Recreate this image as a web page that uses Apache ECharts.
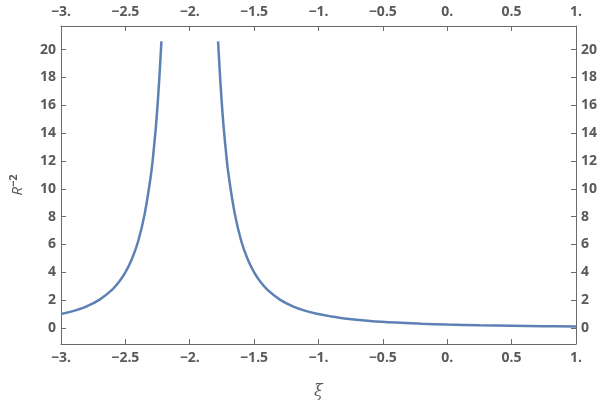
<!DOCTYPE html>
<html>
<head>
<meta charset="utf-8">
<script src="https://cdn.jsdelivr.net/npm/echarts@6/dist/echarts.min.js"></script>
<style>
  html, body { margin: 0; padding: 0; background: #fff; }
  #main { width: 600px; height: 405px; }
</style>
</head>
<body>
<div id="main"></div>
<script>
// values, left branch / right branch of the curve
var xiLeft = [-3.0, -2.9, -2.8, -2.7, -2.6, -2.55, -2.5, -2.45, -2.4, -2.35, -2.3, -2.28, -2.26, -2.24, -2.22];
var r2Left = [1.00, 1.23, 1.56, 2.04, 2.78, 3.31, 4.0, 4.94, 6.25, 8.2, 11.1, 12.8, 14.8, 17.4, 20.6];
var xiRight = [-1.78, -1.76, -1.74, -1.72, -1.7, -1.65, -1.6, -1.55, -1.5, -1.45, -1.4, -1.3, -1.2, -1.1, -1.0, -0.9, -0.8, -0.6, -0.4, -0.2, 0.0, 0.25, 0.5, 0.75, 1.0];
var r2Right = [20.6, 17.4, 14.8, 12.8, 11.1, 8.2, 6.25, 4.94, 4.0, 3.31, 2.78, 2.04, 1.56, 1.23, 1.00, 0.83, 0.69, 0.51, 0.39, 0.31, 0.25, 0.20, 0.16, 0.13, 0.11];
var yTicks = [0, 2, 4, 6, 8, 10, 12, 14, 16, 18, 20];

var data = []
xiLeft.forEach(function (x, i) { data.push([x, r2Left[i]]) })
data.push([-2, null]) // break at the pole
xiRight.forEach(function (x, i) { data.push([x, r2Right[i]]) })

var frame = '#6b6b6b'
var txt = '#5a5a5a'
var font = 'Open Sans'

function xLabel (v) {
  var s = Number.isInteger(v) ? v + '.' : String(v)
  return s.replace('-', '\u2212')
}

function xAxis (pos, withName) {
  return {
    type: 'value',
    position: pos,
    min: -3,
    max: 1,
    interval: 0.5,
    name: withName ? '\u03be' : '',
    nameLocation: 'middle',
    nameGap: 40,
    nameTextStyle: { color: txt, fontSize: 16, fontStyle: 'italic', fontFamily: 'DejaVu Serif' },
    axisLine: { show: true, onZero: false, lineStyle: { color: frame, width: 1 } },
    axisTick: { show: true, inside: true, length: 5, lineStyle: { color: frame } },
    axisLabel: { color: txt, fontSize: 14, fontWeight: 'bold', fontFamily: font, margin: 7, formatter: xLabel },
    splitLine: { show: false }
  }
}

function yAxis (pos, withName) {
  return {
    type: 'value',
    position: pos,
    min: -1.15,
    max: 21.7,
    name: withName ? '{i|R}{s|\u22122}' : '',
    nameLocation: 'middle',
    nameGap: 34,
    nameRotate: 90,
    nameTextStyle: {
      color: txt,
      rich: {
        i: { fontSize: 15, fontStyle: 'italic', fontFamily: font, color: txt },
        s: { fontSize: 11, fontFamily: font, color: txt, fontWeight: 'bold', padding: [0, 0, 8, 0] }
      }
    },
    axisLine: { show: true, onZero: false, lineStyle: { color: frame, width: 1 } },
    axisTick: { show: true, inside: true, length: 5, lineStyle: { color: frame }, customValues: yTicks },
    axisLabel: { color: txt, fontSize: 14, fontWeight: 'bold', fontFamily: font, margin: 5, customValues: yTicks },
    splitLine: { show: false }
  }
}

var chart = echarts.init(document.getElementById('main'))
chart.setOption({
  animation: false,
  grid: { left: 56, right: 21, top: 26, bottom: 56, containLabel: false },
  xAxis: [xAxis('bottom', true), xAxis('top', false)],
  yAxis: [yAxis('left', true), yAxis('right', false)],
  series: [{
    type: 'line',
    xAxisIndex: 0,
    yAxisIndex: 0,
    data: data,
    showSymbol: false,
    smooth: 0.4,
    connectNulls: false,
    clip: true,
    lineStyle: { color: '#5e81b5', width: 2.5 }
  }]
})
</script>
</body>
</html>
